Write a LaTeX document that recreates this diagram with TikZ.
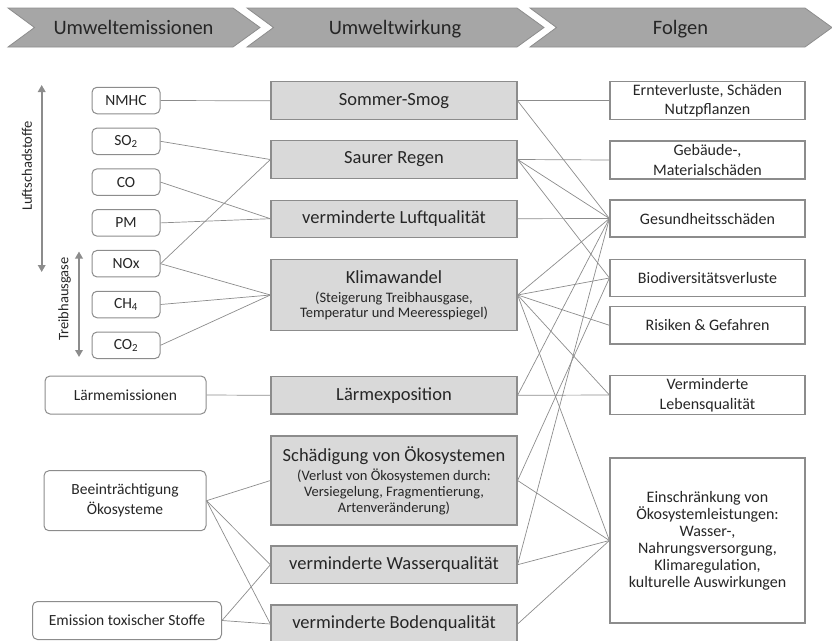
\documentclass[tikz,border=0pt]{standalone}
\usepackage{fontspec}
\setmainfont{Carlito}
\usetikzlibrary{arrows.meta}

\definecolor{liniengrau}{HTML}{8C8C8C}
\definecolor{kastengrau}{HTML}{D9D9D9}
\definecolor{kopfgrau}{HTML}{A6A6A6}
\definecolor{schrift}{HTML}{262626}

\newcommand\klein[1]{{\fontsize{14.5}{16}\selectfont #1}}

\tikzset{
  kopf/.style={fill=kopfgrau, draw=kopfgrau!85!black, line width=0.8pt},
  kopf text/.style={anchor=base, text=schrift, font=\fontsize{20.5}{24}\selectfont},
  quelle/.style={draw=liniengrau, line width=1pt, rounded corners=5pt, fill=white,
    align=center, inner sep=0pt, text=schrift, font=\fontsize{15.5}{20}\selectfont},
  wirkung/.style={draw=liniengrau, line width=1.2pt, fill=kastengrau, minimum width=246pt,
    align=center, inner sep=0pt, text=schrift, font=\fontsize{18.5}{22}\selectfont},
  folge/.style={draw=liniengrau, line width=1.2pt, fill=white, minimum width=195pt,
    align=center, inner sep=0pt, text=schrift, font=\fontsize{16}{19.5}\selectfont},
  seite/.style={text=schrift, font=\fontsize{14.5}{16}\selectfont, rotate=90},
  klammer/.style={<->, draw=liniengrau, line width=2pt},
  link/.style={draw=liniengrau, line width=0.7pt}
}

\begin{document}
\begin{tikzpicture}[x=1pt, y=-1pt, >={Triangle[length=7pt, width=7.5pt]}]
\useasboundingbox (0,0) rectangle (832,640);

\foreach \a/\b/\t in {8/233/Umweltemissionen, 247/517/Umweltwirkung, 530/805/Folgen} {
  \draw [kopf] (\a,8) -- (\b,8) -- (\b+27,27.5) -- (\b,47) -- (\a,47) -- (\a+26.5,27.5) -- cycle;
  \node [kopf text] (kopf-\t) at (\a/2+\b/2+13,34.5) {\t};
}

\foreach \t [count=\i] in {NMHC, SO\textsubscript{2}, CO, PM, NOx, CH\textsubscript{4}, CO\textsubscript{2}}
  \node [quelle, minimum width=68pt, minimum height=26.5pt] (quelle-\i) at (126,100.5+\i*40.8-40.8) {\t};
  \node [quelle, minimum width=161pt, minimum height=38pt] (quelle-8) at (125.5,395) {Lärmemissionen};
  \node [quelle, minimum width=162pt, minimum height=60pt] (quelle-9) at (125,500.7) {Beeinträchtigung\\Ökosysteme};
  \node [quelle, minimum width=189pt, minimum height=38pt] (quelle-10) at (127,620.5) {Emission toxischer Stoffe};

\coordinate (luft-oben) at (41.7,85);
\coordinate (luft-unten) at (41.7,272);
\coordinate (thg-oben) at (79,251.5);
\coordinate (thg-unten) at (79,357);
\draw [klammer] (luft-oben) -- (luft-unten);
\draw [klammer] (thg-oben) -- (thg-unten);
\node [seite] (luft-text) at (27,166) {Luftschadstoffe};
\node [seite] (thg-text) at (64.5,299) {Treibhausgase};

\foreach \y/\h/\t [count=\i] in {
    100.8/38/Sommer-Smog,
    159.5/38/Saurer Regen,
    218.7/37/verminderte Luftqualität,
    295/71.5/{Klimawandel\\[-3pt]\klein{(Steigerung Treibhausgase,}\\[-7pt]\klein{Temperatur und Meeresspiegel)}},
    395.3/37.5/Lärmexposition,
    480.5/89/{Schädigung von Ökosystemen\\[-3pt]\klein{(Verlust von Ökosystemen durch:}\\[-6pt]\klein{Versiegelung, Fragmentierung,}\\[-6pt]\klein{Artenveränderung)}},
    564.7/37.5/verminderte Wasserqualität,
    624/38/verminderte Bodenqualität}
  \node [wirkung, minimum height=\h pt] (wirkung-\i) at (394,\y) {\t};

\foreach \y/\h/\t [count=\i] in {
    100.8/38/{Ernteverluste, Schäden\\Nutzpflanzen},
    160/38/{Gebäude-,\\Materialschäden},
    218.5/37/Gesundheitsschäden,
    278/37.5/Biodiversitätsverluste,
    325.3/37.5/Risiken \& Gefahren,
    395/38.5/{Verminderte\\Lebensqualität}}
  \node [folge, minimum height=\h pt] (folge-\i) at (707.5,\y) {\t};
  \node [folge, minimum height=165pt, font=\fontsize{16}{17}\selectfont] (folge-7) at (707.5,540.5)
    {Einschränkung von\\Ökosystemleistungen:\\Wasser-,\\Nahrungsversorgung,\\Klimaregulation,\\kulturelle Auswirkungen};

\foreach \a/\b in {1/1, 2/2, 5/2, 3/3, 4/3, 5/4, 6/4, 7/4, 8/5, 9/6, 9/7, 9/8, 10/7, 10/8}
  \draw [link] (quelle-\a.east) -- (wirkung-\b.west);

\foreach \a/\b in {1/1, 1/3, 2/2, 2/3, 2/4, 3/3, 4/3, 4/4, 4/5, 4/6, 4/7, 5/3, 5/6, 6/4, 6/7, 7/3, 7/7, 8/7}
  \draw [link] (wirkung-\a.east) -- (folge-\b.west);

\end{tikzpicture}
\end{document}
